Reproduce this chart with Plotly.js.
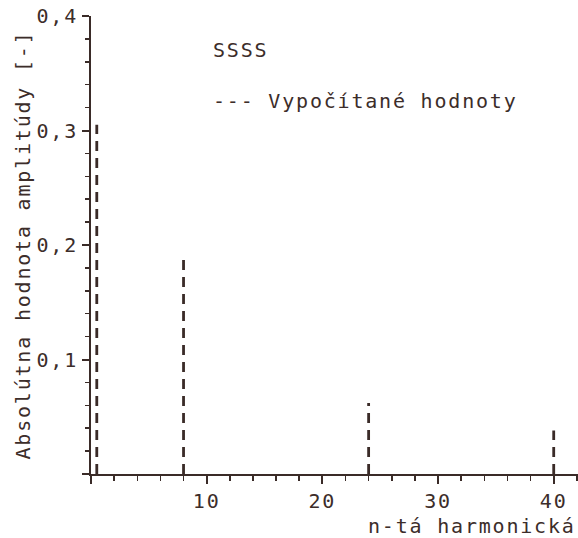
<!DOCTYPE html>
<html>
<head>
<meta charset="utf-8">
<script src="https://cdn.plot.ly/plotly-3.0.1.min.js"></script>
<style>
  html, body { margin: 0; padding: 0; background: #ffffff; }
  #chart { width: 578px; height: 538px; }
  svg text { letter-spacing: 1.8px; }
</style>
</head>
<body>
<div id="chart"></div>
<script>
// Data
const harmonics = [0.5, 8, 24, 40];
const amplitudes = [0.305, 0.19, 0.062, 0.038];
const xTickVals = [0, 10, 20, 30, 40];
const xTickText = ['', '10', '20', '30', '40'];
const yTickVals = [0, 0.1, 0.2, 0.3, 0.4];
const yTickText = ['', '0,1', '0,2', '0,3', '0,4'];
const seriesName = 'Vypočítané hodnoty';
const groupLabel = 'SSSS';
const xTitle = 'n-tá harmonická';
const yTitle = 'Absolútna hodnota amplitúdy [-]';

const ink = '#3c2d2a';
const lineInk = '#3a2b28';
const fontFam = '"DejaVu Sans Mono", "Liberation Mono", monospace';
const fs = 20;

// stems: vertical segments from 0 to amplitude
const xs = [], ys = [];
harmonics.forEach((h, i) => { xs.push(h, h, null); ys.push(0, amplitudes[i], null); });

const trace = {
  x: xs, y: ys, type: 'scatter', mode: 'lines', name: seriesName,
  line: { color: lineInk, width: 2.8, dash: '10px,7px' },
  showlegend: false, hoverinfo: 'skip'
};

const layout = {
  width: 578, height: 538,
  margin: { l: 91, r: 0, t: 16, b: 64 },
  paper_bgcolor: '#ffffff', plot_bgcolor: '#ffffff',
  showlegend: false,
  font: { family: fontFam, size: fs, color: ink },
  xaxis: {
    range: [0, 42.1], showgrid: false, zeroline: false,
    showline: true, linecolor: lineInk, linewidth: 2,
    tickmode: 'array', tickvals: xTickVals, ticktext: xTickText,
    ticks: 'outside', ticklen: 8, tickwidth: 2, tickcolor: lineInk,
    ticklabelstandoff: 0,
    tickfont: { family: fontFam, size: fs, color: ink },
    minor: { dtick: 2, tick0: 0, ticks: 'outside', ticklen: 5, tickwidth: 1.5, tickcolor: lineInk, showgrid: false }
  },
  yaxis: {
    range: [0, 0.4], showgrid: false, zeroline: false,
    showline: true, linecolor: lineInk, linewidth: 2,
    tickmode: 'array', tickvals: yTickVals, ticktext: yTickText,
    ticks: 'outside', ticklen: 7, tickwidth: 2, tickcolor: lineInk,
    ticklabelstandoff: 0,
    tickfont: { family: fontFam, size: fs, color: ink },
    minor: { dtick: 0.02, tick0: 0, ticks: 'outside', ticklen: 4, tickwidth: 1.5, tickcolor: lineInk, showgrid: false },
    title: { text: yTitle, standoff: 0, font: { family: fontFam, size: fs, color: ink } }
  },
  annotations: [
    { xref: 'paper', yref: 'paper', x: 1, y: (474 - 526) / 458, xanchor: 'right', yanchor: 'middle',
      text: xTitle, showarrow: false, font: { family: fontFam, size: fs, color: ink } },
    { xref: 'paper', yref: 'paper', x: (211 - 91) / 487, y: (474 - 50) / 458, xanchor: 'left', yanchor: 'middle',
      text: groupLabel, showarrow: false, font: { family: fontFam, size: fs, color: ink } },
    { xref: 'paper', yref: 'paper', x: (211 - 91) / 487, y: (474 - 101) / 458, xanchor: 'left', yanchor: 'middle',
      text: '--- ' + seriesName, showarrow: false, font: { family: fontFam, size: fs, color: ink } }
  ]
};

Plotly.newPlot('chart', [trace], layout, { displayModeBar: false, staticPlot: true });
</script>
</body>
</html>
